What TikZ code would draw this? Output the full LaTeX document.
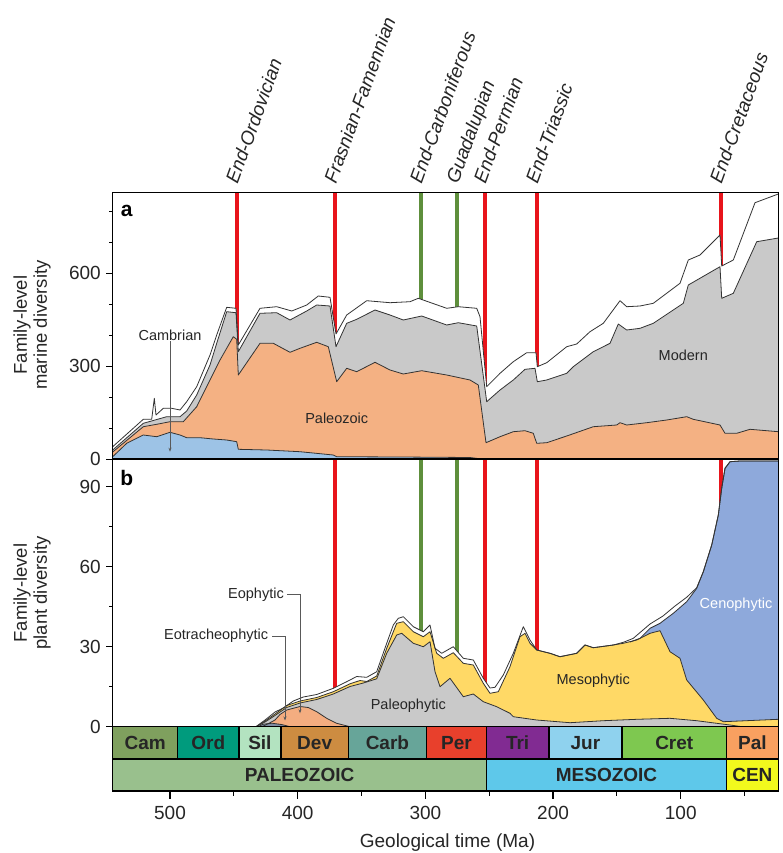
\documentclass[tikz,border=0pt]{standalone}
\usepackage{fontspec}
\setmainfont{Liberation Sans}
\usetikzlibrary{arrows.meta}
\definecolor{cambblue}{HTML}{9DC3E6}
\definecolor{paleo}{HTML}{F4B183}
\definecolor{modgray}{HTML}{C9C9C9}
\definecolor{eoph}{HTML}{F4AD80}
\definecolor{meso}{HTML}{FFD966}
\definecolor{ceno}{HTML}{8EA9DB}
\definecolor{eotr}{HTML}{7F8CA3}
\definecolor{evred}{HTML}{E8141B}
\definecolor{evgreen}{HTML}{5E8F3C}
\definecolor{cCam}{HTML}{7FA05E}
\definecolor{cOrd}{HTML}{009B7D}
\definecolor{cSil}{HTML}{B3E3C0}
\definecolor{cDev}{HTML}{CD8C41}
\definecolor{cCarb}{HTML}{67A599}
\definecolor{cPer}{HTML}{E8402C}
\definecolor{cTri}{HTML}{812B92}
\definecolor{cJur}{HTML}{8FD2EE}
\definecolor{cCret}{HTML}{7EC850}
\definecolor{cPal}{HTML}{F9A060}
\definecolor{cPZ}{HTML}{99C08D}
\definecolor{cMZ}{HTML}{5EC8EA}
\definecolor{cCZ}{HTML}{F2F91D}
\definecolor{txt}{HTML}{262626}
\begin{document}
\begin{tikzpicture}[x=1pt,y=-1pt,
  lay/.style={draw=black!80, line width=0.8pt, line join=round},
  evr/.style={draw=evred, line width=4.2pt},
  evg/.style={draw=evgreen, line width=4.2pt},
  frame/.style={draw=black, line width=1.5pt},
  axislab/.style={font=\fontsize{19}{21}\selectfont, text=txt, inner sep=0pt},
  inlab/.style={font=\fontsize{14.5}{16}\selectfont, text=txt, inner sep=0pt},
  evlab/.style={font=\fontsize{19}{21}\selectfont\itshape, text=txt, rotate=70, anchor=base west, inner sep=0pt},
  pbox/.style={draw=black, line width=1.4pt, inner sep=0pt, minimum height=32.3pt, text=txt, font=\fontsize{19}{21}\selectfont\bfseries},
  leader/.style={draw=black!65, line width=0.6pt, -{Stealth[length=4pt,width=3pt]}},
  aOuter/.style={insert path={(112.7,446.7) -- (143.3,419.3) -- (151.7,419.3) -- (154.3,398.3) -- (156,415) -- (163.3,408.3) -- (171.7,408.3) -- (180,410) -- (186.7,401.7) -- (196.7,386.7) -- (210,355) -- (216.7,335) -- (226.7,307.3) -- (236,308.3) -- (238.3,345) -- (260,308.3) -- (276.7,306.7) -- (291.7,311) -- (306.7,305) -- (318.3,296) -- (330,297.3) -- (336,334) -- (346.7,315) -- (366.7,300.7) -- (390,302.7) -- (410,301.7) -- (418.3,298.3) -- (446.7,308.3) -- (458.3,306.7) -- (476.7,308.3) -- (480,316.7) -- (486.7,386.7) -- (500,373.3) -- (513.3,361.7) -- (526.7,352.7) -- (536,352.7) -- (537.3,366.7) -- (546.7,362.7) -- (566.7,346.7) -- (576.7,344) -- (590,331.7) -- (603.3,323.3) -- (620,300.7) -- (626.7,306.7) -- (640,306) -- (653.3,303.3) -- (680,283.3) -- (688.3,260) -- (700,255) -- (720,235) -- (721.7,266) -- (733.3,260) -- (755,202.7) -- (778.3,194)}},
  aGray/.style={insert path={(112.7,450) -- (143.3,423.3) -- (166.7,416.7) -- (180,416.7) -- (186.7,411) -- (196.7,395) -- (210,365) -- (216.7,343.3) -- (226.7,311.7) -- (236,312.7) -- (238.3,351.7) -- (260,313.3) -- (276.7,312.7) -- (290,320) -- (306.7,311) -- (316.7,305) -- (330,306) -- (336,346.7) -- (346.7,323.3) -- (356.7,319.3) -- (375,310) -- (390,315) -- (403.3,320) -- (421.7,316) -- (446.7,325) -- (458.3,322.7) -- (476.7,326) -- (486.7,401.7) -- (500,390) -- (513.3,380) -- (525,369.3) -- (535,368.3) -- (537.3,381.7) -- (546.7,380) -- (566.7,373.3) -- (573.3,366.7) -- (593.3,351.7) -- (610,343.3) -- (618.3,324) -- (626.7,330) -- (640,328.3) -- (653.3,323.3) -- (683.3,303.3) -- (688.3,285) -- (720,266.7) -- (721.7,298.3) -- (733.3,293.3) -- (756.7,241.7) -- (778.3,238)}},
  aOrange/.style={insert path={(112.7,452) -- (143.3,426.7) -- (156.7,424.3) -- (170,421.7) -- (183.3,421.7) -- (196.7,406.7) -- (210,380) -- (220,360) -- (233.3,336.7) -- (236.7,339.3) -- (238.3,375) -- (260,343.3) -- (273.3,343.3) -- (290,352.3) -- (300,348.3) -- (316.7,342.3) -- (328.3,346.7) -- (336.7,381.7) -- (346.7,368.3) -- (356.7,371.7) -- (375,362.3) -- (390,370) -- (403.3,374) -- (421.7,370.7) -- (446.7,375) -- (470,380) -- (478.3,385) -- (486,442.7) -- (500,436.7) -- (513.3,431.7) -- (525,430.7) -- (533.3,433.3) -- (536.7,443.3) -- (546.7,442.7) -- (566.7,436) -- (593.3,426.7) -- (616.7,425) -- (620,422.7) -- (626.7,425) -- (646.7,422.7) -- (666.7,420) -- (686.7,416.7) -- (693.3,419.3) -- (720,425) -- (725,433.3) -- (736.7,433.3) -- (750,429.3) -- (766.7,430.7) -- (778.3,431.7)}},
  aBlue/.style={insert path={(112.7,456.7) -- (126.7,443.3) -- (143.3,435) -- (156.7,436.7) -- (170,432.3) -- (180,435) -- (186.7,437.7) -- (200,437.7) -- (213.3,439) -- (226.7,440) -- (236.7,441.7) -- (238.3,449.3) -- (266.7,450) -- (300,451.7) -- (333.3,455) -- (336.7,456.7) -- (400,457) -- (470,457.5) -- (482,459)}},
  bOuter/.style={insert path={(256,726.7) -- (265,720) -- (275,712) -- (283.3,708) -- (293.3,701) -- (303.3,697) -- (316.7,694.5) -- (333.3,688.3) -- (346.7,681.7) -- (356.7,676.5) -- (366.7,677.3) -- (376.7,671.7) -- (386.7,643.3) -- (393.3,625) -- (398.3,618.3) -- (403.3,616.7) -- (413.3,626.7) -- (423.3,631.7) -- (430,625) -- (435,648.3) -- (441.7,653.3) -- (453.3,646.7) -- (463.3,658.3) -- (473.3,660) -- (483.3,678.3) -- (490,688) -- (495,687.3) -- (503.3,675) -- (513.3,653.3) -- (523.3,626.7) -- (530,640) -- (536.7,650) -- (550,653.3) -- (560,656.7) -- (576.7,653.3) -- (585,645) -- (593.3,647.7) -- (613.3,645) -- (623.3,642.3) -- (633.3,638.3) -- (650,624) -- (663,616) -- (675,606) -- (687,597) -- (696.7,587.7) -- (703.3,571.7) -- (711.7,545) -- (718.3,515) -- (721.7,488.3) -- (725,468.3) -- (730,461.7) -- (740,461) -- (778.3,461)}},
  bBlue/.style={insert path={(630,642) -- (640,638.3) -- (650,628.3) -- (660,623.3) -- (673.3,613.3) -- (686.7,601.7) -- (696.7,588.3) -- (703.3,571.7) -- (711.7,545) -- (718.3,515) -- (721.7,488.3) -- (725,468.3) -- (730,461.7) -- (740,461) -- (778.3,461)}},
  bYellow/.style={insert path={(256,726.7) -- (265,721) -- (275,714) -- (286.7,705.5) -- (300,701) -- (316.7,697.5) -- (333.3,691.7) -- (350,683.8) -- (360,680.5) -- (366.7,681.5) -- (376.7,676) -- (386.7,648.3) -- (396.7,623.3) -- (403.3,621.7) -- (413.3,631.7) -- (423.3,636.7) -- (430,631.7) -- (436.7,653.3) -- (443.3,658.3) -- (453.3,652.7) -- (463.3,663.3) -- (473.3,665) -- (483.3,683.3) -- (490,693.3) -- (498.3,691.7) -- (510,666.7) -- (520,636.7) -- (525,633.3) -- (530,643.3) -- (536.7,650) -- (550,653.3) -- (560,656.7) -- (576.7,653.3) -- (585,645) -- (593.3,647.7) -- (613.3,645) -- (623.3,643.3) -- (636.7,640) -- (650,633.3) -- (660,630.7) -- (670,651.7) -- (680,658.3) -- (686.7,680) -- (703.3,700) -- (716.7,718.3) -- (723.3,721.7) -- (778.3,719.3)}},
  bGray/.style={insert path={(256,726.7) -- (265,722) -- (275,715.5) -- (286.7,707.5) -- (300,703) -- (316.7,699.5) -- (333.3,694) -- (350,686.5) -- (363.3,683) -- (376.7,678.8) -- (386.7,653.3) -- (396.7,635) -- (401.7,633.3) -- (413.3,643.3) -- (423.3,646.7) -- (430,641.7) -- (435,671.7) -- (440,686.7) -- (450,678.3) -- (463.3,696.7) -- (473.3,694) -- (483.3,701.7) -- (496.7,706.7) -- (510,713.3) -- (513.3,716.7) -- (536.7,720) -- (570,722.7) -- (603.3,720.7) -- (636.7,719.3) -- (670,718.3) -- (696.7,720.7) -- (716.7,723.3) -- (730,725) -- (742,726.7)}},
  bOrange/.style={insert path={(262,726.7) -- (268,723.8) -- (275,720) -- (280,714.5) -- (286.7,710) -- (300,706.5) -- (308.3,707.5) -- (316.7,711.7) -- (326.7,718.3) -- (336.7,723.3) -- (343.3,725) -- (350,726.7)}},
  bEotr/.style={insert path={(258,726.7) -- (263,724.2) -- (272,723.2) -- (282,724.6) -- (290,726.7)}}
]
\useasboundingbox (0,0) rectangle (782,853);
\fill[white] (0,0) rectangle (782,853);

% ---------- panel a ----------
\foreach \xx in {236.7,335.3,485,536.7,720.7} \draw[evr] (\xx,192.3) -- (\xx,459);
\foreach \xx in {420.7,457.3} \draw[evg] (\xx,192.3) -- (\xx,459);
\fill[white] [aOuter] -- (778.3,459) -- (112.7,459) -- cycle;
\fill[modgray] [aGray] -- (778.3,459) -- (112.7,459) -- cycle;
\fill[paleo] [aOrange] -- (778.3,459) -- (112.7,459) -- cycle;
\fill[cambblue] [aBlue] -- (112.7,459) -- cycle;
\draw[lay] [aOuter];
\draw[lay] [aGray];
\draw[lay] [aOrange];
\draw[lay] [aBlue];
\draw[frame] (112.7,192.3) rectangle (778.3,459);

% ---------- panel b ----------
\foreach \xx in {335.3,485,536.7,720.7} \draw[evr] (\xx,459) -- (\xx,726.7);
\foreach \xx in {420.7,457.3} \draw[evg] (\xx,459) -- (\xx,726.7);
\fill[white] [bOuter] -- (778.3,726.7) -- cycle;
\fill[ceno] [bBlue] -- (778.3,726.7) -- (630,726.7) -- cycle;
\fill[meso] [bYellow] -- (778.3,726.7) -- cycle;
\fill[modgray] [bGray] -- cycle;
\fill[eoph] [bOrange] -- cycle;
\fill[eotr] [bEotr] -- cycle;
\draw[lay] [bOuter];
\draw[lay] [bBlue];
\draw[lay] [bYellow];
\draw[lay] [bGray];
\draw[lay] [bOrange];
\draw[lay] [bEotr];
\draw[frame] (112.7,459) rectangle (778.3,726.7);

% ---------- y ticks ----------
\foreach \v in {0,100,...,800} \draw[black, line width=1pt] (112.7,{459-\v*0.3093}) -- (108.7,{459-\v*0.3093});
\foreach \v in {0,300,600} {
  \draw[black, line width=1pt] (112.7,{459-\v*0.3093}) -- (105.7,{459-\v*0.3093});
  \node[axislab, anchor=east] (ya\v) at (101,{459-\v*0.3093}) {\v};
}
\foreach \v in {0,15,...,90} \draw[black, line width=1pt] (112.7,{726.7-\v*2.667}) -- (108.7,{726.7-\v*2.667});
\foreach \v in {0,30,60,90} {
  \draw[black, line width=1pt] (112.7,{726.7-\v*2.667}) -- (105.7,{726.7-\v*2.667});
  \node[axislab, anchor=east] (yb\v) at (101,{726.7-\v*2.667}) {\v};
}
\node[axislab, rotate=90, align=center, font=\fontsize{18.5}{20}\selectfont] (ytitA) at (32,325) {Family-level\\marine diversity};
\node[axislab, rotate=90, align=center, font=\fontsize{18.5}{20}\selectfont] (ytitB) at (32,593) {Family-level\\plant diversity};

% ---------- panel letters and labels ----------
\node[font=\fontsize{21}{23}\selectfont\bfseries, inner sep=0pt] (pa) at (126.7,211) {a};
\node[font=\fontsize{21}{23}\selectfont\bfseries, inner sep=0pt] (pb) at (126.7,477.5) {b};
\node[inlab] (lpaleo) at (336.7,418.3) {Paleozoic};
\node[inlab] (lmodern) at (683.3,355.7) {Modern};
\node[inlab, anchor=south] (lcamb) at (170,341) {Cambrian};
\coordinate (cambT) at (170,451.7);
\draw[leader] (lcamb.south) -- (cambT);
\node[inlab] (lpaleoph) at (408.3,706) {Paleophytic};
\node[inlab] (lmeso) at (593.3,681) {Mesophytic};
\node[inlab, text=white] (lceno) at (736,604.3) {Cenophytic};
\node[inlab, anchor=east] (leoph) at (284,594.3) {Eophytic};
\coordinate (eophA) at (300,594.3);
\coordinate (eophT) at (300,713.3);
\draw[leader] (leoph.east) ++(3,0) -- (eophA) -- (eophT);
\node[inlab, anchor=east] (leotr) at (268.3,636) {Eotracheophytic};
\coordinate (eotrA) at (285,636);
\coordinate (eotrT) at (285,720.5);
\draw[leader] (leotr.east) ++(4,0) -- (eotrA) -- (eotrT);

% ---------- event labels ----------
\node[evlab] (eEO) at (237.5,185) {End-Ordovician};
\node[evlab] (eFF) at (336,185) {Frasnian-Famennian};
\node[evlab] (eEC) at (421.5,185) {End-Carboniferous};
\node[evlab] (eGU) at (458,185) {Guadalupian};
\node[evlab] (eEP) at (485.5,185) {End-Permian};
\node[evlab] (eET) at (537.5,185) {End-Triassic};
\node[evlab] (eEK) at (721.5,185) {End-Cretaceous};

% ---------- time scale ----------
\foreach \a/\b/\t/\c/\n in {112.7/177.7/Cam/cCam/pCam, 177.7/238.8/Ord/cOrd/pOrd, 238.8/281/Sil/cSil/pSil, 281/348.3/Dev/cDev/pDev, 348.3/426.5/Carb/cCarb/pCarb, 426.5/486.5/Per/cPer/pPer, 486.5/548.8/Tri/cTri/pTri, 548.8/622/Jur/cJur/pJur, 622/726.5/Cret/cCret/pCret, 726.5/778.3/Pal/cPal/pPal}
  \node[pbox, fill=\c, minimum width={\b-\a}] (\n) at ({(\a+\b)/2},742.85) {\t};
\foreach \a/\b/\t/\c/\n in {112.7/486.5/PALEOZOIC/cPZ/ePZ, 486.5/726.5/MESOZOIC/cMZ/eMZ, 726.5/778.3/CEN/cCZ/eCZ}
  \node[pbox, fill=\c, minimum width={\b-\a}, minimum height=31.7pt] (\n) at ({(\a+\b)/2},775.15) {\t};

% ---------- x ticks ----------
\foreach \t in {450,350,250,150,50} \draw[black, line width=1.2pt] ({170+(500-\t)*1.2768},791) -- ({170+(500-\t)*1.2768},795.5);
\foreach \t in {500,400,300,200,100} {
  \draw[black, line width=1.2pt] ({170+(500-\t)*1.2768},791) -- ({170+(500-\t)*1.2768},799);
  \node[axislab] (xt\t) at ({170+(500-\t)*1.2768},813) {\t};
}
\node[axislab] (xtitle) at (447.5,843) {Geological time (Ma)};
\end{tikzpicture}
\end{document}
